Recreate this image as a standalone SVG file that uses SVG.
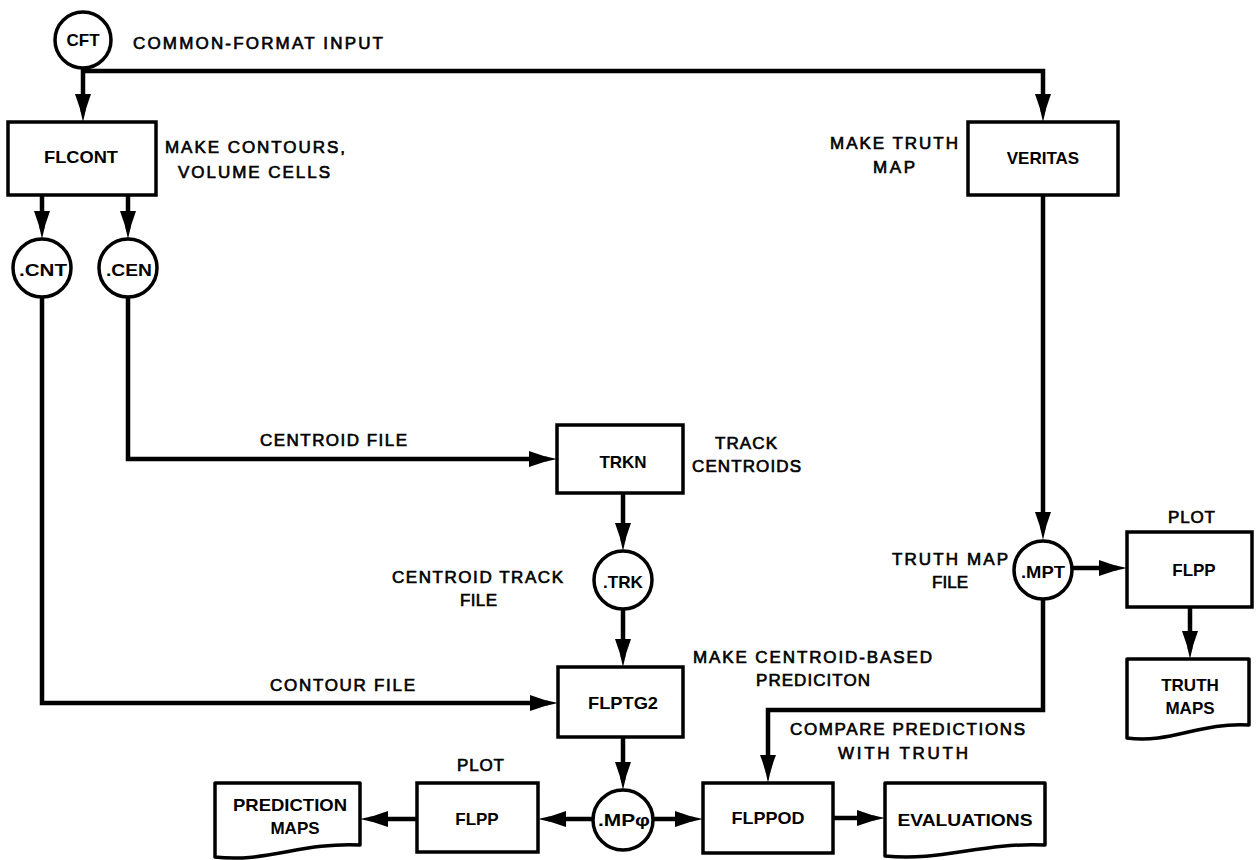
<svg xmlns="http://www.w3.org/2000/svg" width="1256" height="860" viewBox="0 0 1256 860">
<style>
  .box { fill: #fff; stroke: #000; stroke-width: 3.5; }
  .doc { fill: #fff; stroke: #000; stroke-width: 3.5; stroke-linejoin: round; }
  .conn { fill: none; stroke: #000; stroke-width: 4.5; }
  .lbl { font-family: "Liberation Sans", Arial, sans-serif; font-size: 17px; font-weight: bold; text-anchor: middle; fill: #000; }
  .ann { font-family: "Liberation Sans", Arial, sans-serif; font-size: 17px; font-weight: normal; fill: #000; stroke: #000; stroke-width: 0.65; }
</style>
<defs>
  <marker id="ah" markerUnits="userSpaceOnUse" markerWidth="30" markerHeight="18" refX="18" refY="8" orient="auto">
    <path d="M0,0 Q14,5.5 28,8 Q14,10.5 0,16 Z" fill="#000"/>
  </marker>
</defs>

<g id="connectors">
  <path class="conn" d="M83,68 V112" marker-end="url(#ah)"/>
  <path class="conn" d="M83,71 H1043 V112" marker-end="url(#ah)"/>
  <path class="conn" d="M42,195 V229" marker-end="url(#ah)"/>
  <path class="conn" d="M128,195 V229" marker-end="url(#ah)"/>
  <path class="conn" d="M42,297 V703 H548" marker-end="url(#ah)"/>
  <path class="conn" d="M128,297 V459 H547" marker-end="url(#ah)"/>
  <path class="conn" d="M623,493 V541" marker-end="url(#ah)"/>
  <path class="conn" d="M623,609 V657" marker-end="url(#ah)"/>
  <path class="conn" d="M623,737 V780" marker-end="url(#ah)"/>
  <path class="conn" d="M593,819 H548" marker-end="url(#ah)"/>
  <path class="conn" d="M653,819 H693" marker-end="url(#ah)"/>
  <path class="conn" d="M833,818 H875" marker-end="url(#ah)"/>
  <path class="conn" d="M417,819 H370" marker-end="url(#ah)"/>
  <path class="conn" d="M1043,195 V530" marker-end="url(#ah)"/>
  <path class="conn" d="M1072,568 H1117" marker-end="url(#ah)"/>
  <path class="conn" d="M1043,599 V710 H768 V773" marker-end="url(#ah)"/>
  <path class="conn" d="M1190,607 V649" marker-end="url(#ah)"/>
</g>

<g id="annotations">
  <text class="ann" x="133" y="49" textLength="250" lengthAdjust="spacing">COMMON-FORMAT  INPUT</text>
  <text class="ann" x="165" y="153" textLength="180" lengthAdjust="spacing">MAKE  CONTOURS,</text>
  <text class="ann" x="178" y="178" textLength="152" lengthAdjust="spacing">VOLUME  CELLS</text>
  <text class="ann" x="830" y="149" textLength="128" lengthAdjust="spacing">MAKE  TRUTH</text>
  <text class="ann" x="873" y="173" textLength="42" lengthAdjust="spacing">MAP</text>
  <text class="ann" x="260" y="446" textLength="147" lengthAdjust="spacing">CENTROID  FILE</text>
  <text class="ann" x="715" y="449" textLength="62" lengthAdjust="spacing">TRACK</text>
  <text class="ann" x="692" y="472" textLength="109" lengthAdjust="spacing">CENTROIDS</text>
  <text class="ann" x="392" y="583" textLength="171" lengthAdjust="spacing">CENTROID  TRACK</text>
  <text class="ann" x="460" y="606" textLength="37" lengthAdjust="spacing">FILE</text>
  <text class="ann" x="892" y="565" textLength="116" lengthAdjust="spacing">TRUTH  MAP</text>
  <text class="ann" x="932" y="588" textLength="36" lengthAdjust="spacing">FILE</text>
  <text class="ann" x="1168" y="523" textLength="47" lengthAdjust="spacing">PLOT</text>
  <text class="ann" x="270" y="691" textLength="145" lengthAdjust="spacing">CONTOUR  FILE</text>
  <text class="ann" x="693" y="663" textLength="239" lengthAdjust="spacing">MAKE  CENTROID-BASED</text>
  <text class="ann" x="756" y="686" textLength="114" lengthAdjust="spacing">PREDICITON</text>
  <text class="ann" x="790" y="735" textLength="235" lengthAdjust="spacing">COMPARE  PREDICTIONS</text>
  <text class="ann" x="838" y="759" textLength="130" lengthAdjust="spacing">WITH  TRUTH</text>
  <text class="ann" x="457" y="771" textLength="47" lengthAdjust="spacing">PLOT</text>
</g>

<g id="node-cft">
  <circle class="box" cx="83" cy="40" r="28"/>
  <text class="lbl" x="83" y="46">CFT</text>
</g>
<g id="node-flcont">
  <rect class="box" x="8" y="122" width="148" height="73"/>
  <text class="lbl" x="81" y="163" textLength="74" lengthAdjust="spacingAndGlyphs">FLCONT</text>
</g>
<g id="node-cnt">
  <circle class="box" cx="42" cy="268" r="29"/>
  <text class="lbl" x="43" y="276" textLength="48" lengthAdjust="spacingAndGlyphs">.CNT</text>
</g>
<g id="node-cen">
  <circle class="box" cx="128" cy="268" r="29"/>
  <text class="lbl" x="129" y="276" textLength="46" lengthAdjust="spacingAndGlyphs">.CEN</text>
</g>
<g id="node-veritas">
  <rect class="box" x="968" y="122" width="150" height="73"/>
  <text class="lbl" x="1043" y="164">VERITAS</text>
</g>
<g id="node-trkn">
  <rect class="box" x="557" y="425" width="126" height="68"/>
  <text class="lbl" x="623" y="468">TRKN</text>
</g>
<g id="node-trk">
  <circle class="box" cx="623" cy="580" r="29"/>
  <text class="lbl" x="623" y="588" textLength="40" lengthAdjust="spacingAndGlyphs">.TRK</text>
</g>
<g id="node-mpt">
  <circle class="box" cx="1043" cy="570" r="29"/>
  <text class="lbl" x="1043" y="578" textLength="44" lengthAdjust="spacingAndGlyphs">.MPT</text>
</g>
<g id="node-flpp-right">
  <rect class="box" x="1127" y="532" width="125" height="75"/>
  <text class="lbl" x="1194" y="576">FLPP</text>
</g>
<g id="node-truthmaps">
  <path class="doc" d="M1127,659 H1249 V725 C1200,722 1170,744 1127,738 Z"/>
  <text class="lbl" x="1190" y="691">TRUTH</text>
  <text class="lbl" x="1190" y="714">MAPS</text>
</g>
<g id="node-flptg2">
  <rect class="box" x="558" y="667" width="125" height="70"/>
  <text class="lbl" x="623" y="709" textLength="70" lengthAdjust="spacingAndGlyphs">FLPTG2</text>
</g>
<g id="node-mp0">
  <circle class="box" cx="623" cy="820" r="30"/>
  <text class="lbl" x="624" y="826" textLength="52" lengthAdjust="spacingAndGlyphs">.MPφ</text>
</g>
<g id="node-flpp-bottom">
  <rect class="box" x="417" y="783" width="121" height="69"/>
  <text class="lbl" x="477" y="825">FLPP</text>
</g>
<g id="node-predmaps">
  <path class="doc" d="M215,783 H360 V845 C302,842 266,863 215,857 Z"/>
  <text class="lbl" x="290" y="811" textLength="114" lengthAdjust="spacingAndGlyphs">PREDICTION</text>
  <text class="lbl" x="295" y="834">MAPS</text>
</g>
<g id="node-flppod">
  <rect class="box" x="703" y="783" width="130" height="70"/>
  <text class="lbl" x="768" y="824" textLength="73" lengthAdjust="spacingAndGlyphs">FLPPOD</text>
</g>
<g id="node-evaluations">
  <path class="doc" d="M885,783 H1045 V845 C981,842 941,862 885,856 Z"/>
  <text class="lbl" x="965" y="826" textLength="135" lengthAdjust="spacingAndGlyphs">EVALUATIONS</text>
</g>
</svg>
